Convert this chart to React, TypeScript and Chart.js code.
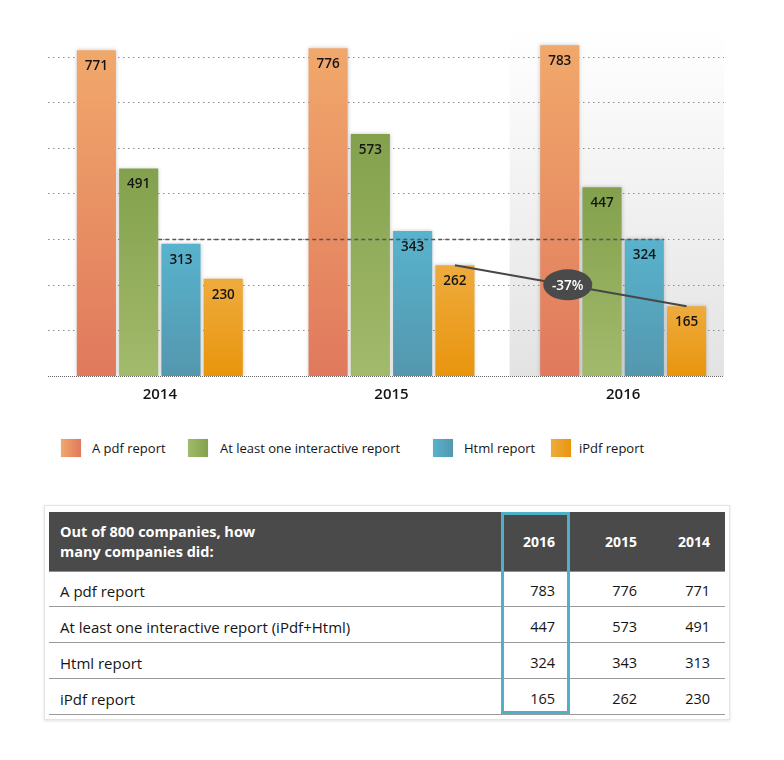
import { useEffect, useRef } from "react";
import { Chart, registerables } from "chart.js";

Chart.register(...registerables);

const years = ["2014", "2015", "2016"];
const seriesNames = ["A pdf report", "At least one interactive report", "Html report", "iPdf report"];
const pdfValues = [771, 776, 783];
const interactiveValues = [491, 573, 447];
const htmlValues = [313, 343, 324];
const ipdfValues = [230, 262, 165];
const gridValues = [108, 216, 324, 432, 540, 648, 756];
const yMax = 800;

const tableTitle = ["Out of 800 companies, how", "many companies did:"];
const tableRowLabels = ["A pdf report", "At least one interactive report (iPdf+Html)", "Html report", "iPdf report"];

const seriesValues = [pdfValues, interactiveValues, htmlValues, ipdfValues];
const seriesTop = ["#f1a86b", "#83a14c", "#58b3cd", "#eeab3d"];
const seriesBottom = ["#e0795d", "#a2ba6c", "#5497ae", "#e9950d"];
const legendLeft = ["#f1a86b", "#a2ba6c", "#58b3cd", "#eeab3d"];
const legendRight = ["#e0795d", "#83a14c", "#5497ae", "#e9950d"];

const FONT = "'Open Sans', Lato, sans-serif";

const decorPlugin = {
  id: "decor",
  beforeDatasetsDraw(chart: any) {
    const { ctx, chartArea: a, scales } = chart;
    const x = scales.x;
    const y = scales.y;
    const gl = a.left + 4;
    const gr = a.right - 15;
    const cw = x.getPixelForValue(1) - x.getPixelForValue(0);
    const px = x.getPixelForValue(2) - cw * 0.49;
    const g = ctx.createLinearGradient(0, a.top - 8, 0, a.bottom);
    g.addColorStop(0, "rgba(255,255,255,1)");
    g.addColorStop(1, "#e3e3e3");
    ctx.save();
    ctx.fillStyle = g;
    ctx.fillRect(px, a.top - 8, gr - px, a.bottom - a.top + 8);
    ctx.strokeStyle = "#8c8c8c";
    ctx.lineWidth = 1;
    ctx.setLineDash([1.5, 3.5]);
    for (const v of gridValues) {
      const yy = Math.round(y.getPixelForValue(v)) + 0.5;
      ctx.beginPath();
      ctx.moveTo(gl, yy);
      ctx.lineTo(gr, yy);
      ctx.stroke();
    }
    ctx.restore();
    ctx.save();
    ctx.shadowColor = "rgba(0,0,0,0.22)";
    ctx.shadowBlur = 4;
    ctx.shadowOffsetX = 0;
    ctx.shadowOffsetY = 0;
  },
  afterDatasetsDraw(chart: any) {
    const { ctx, chartArea: a, scales } = chart;
    ctx.restore();
    const y = scales.y;
    const gl = a.left + 4;
    const gr = a.right - 15;
    // baseline
    ctx.save();
    ctx.strokeStyle = "#666";
    ctx.lineWidth = 1;
    ctx.setLineDash([1, 1]);
    const by = Math.round(y.getPixelForValue(0)) + 0.5;
    ctx.beginPath();
    ctx.moveTo(gl, by);
    ctx.lineTo(gr, by);
    ctx.stroke();
    ctx.restore();
    // value labels
    ctx.save();
    ctx.font = `600 13.5px ${FONT}`;
    ctx.fillStyle = "#151515";
    ctx.textAlign = "center";
    ctx.textBaseline = "middle";
    chart.data.datasets.forEach((ds: any, di: number) => {
      const meta = chart.getDatasetMeta(di);
      meta.data.forEach((el: any, i: number) => {
        ctx.fillText(String(ds.data[i]), el.x, el.y + 16);
      });
    });
    ctx.restore();
    // dashed reference line at 2016 html value
    const mInt = chart.getDatasetMeta(1);
    const mHtml = chart.getDatasetMeta(2);
    const mIpdf = chart.getDatasetMeta(3);
    const sx = mInt.data[0].x + mInt.data[0].width / 2;
    const ex = mHtml.data[2].x + mHtml.data[2].width / 2;
    const dy = Math.round(y.getPixelForValue(htmlValues[2])) + 0.5;
    ctx.save();
    ctx.strokeStyle = "#555";
    ctx.lineWidth = 1.3;
    ctx.setLineDash([4, 3]);
    ctx.beginPath();
    ctx.moveTo(sx, dy);
    ctx.lineTo(ex, dy);
    ctx.stroke();
    ctx.restore();
    // trend line ipdf 2015 -> 2016
    const p1 = mIpdf.data[1];
    const p2 = mIpdf.data[2];
    ctx.save();
    ctx.strokeStyle = "#474747";
    ctx.lineWidth = 2;
    ctx.beginPath();
    ctx.moveTo(p1.x, p1.y);
    ctx.lineTo(p2.x, p2.y);
    ctx.stroke();
    const mx = (p1.x + p2.x) / 2 - 3;
    const my = (p1.y + p2.y) / 2 - 1;
    ctx.fillStyle = "#4a4a4a";
    ctx.beginPath();
    ctx.ellipse(mx, my, 24.5, 15.5, 0, 0, Math.PI * 2);
    ctx.fill();
    const pct = Math.round(((ipdfValues[2] - ipdfValues[1]) / ipdfValues[1]) * 100);
    ctx.fillStyle = "#ffffff";
    ctx.font = `600 13.5px ${FONT}`;
    ctx.textAlign = "center";
    ctx.textBaseline = "middle";
    ctx.fillText(`${pct}%`, mx, my + 1);
    ctx.restore();
  },
};

function ChartCanvas() {
  const ref = useRef<HTMLCanvasElement>(null);
  useEffect(() => {
    if (!ref.current) return;
    const chart = new Chart(ref.current, {
      type: "bar",
      data: {
        labels: years,
        datasets: seriesValues.map((vals, si) => ({
          label: seriesNames[si],
          data: vals,
          borderWidth: 0,
          categoryPercentage: 0.73,
          barPercentage: 0.925,
          backgroundColor: (c: any) => {
            const ch = c.chart;
            const ys = ch.scales && ch.scales.y;
            if (!ch.chartArea || !ys || c.raw === undefined) return seriesTop[si];
            const top = ys.getPixelForValue(c.raw);
            const bot = ys.getPixelForValue(0);
            const g = ch.ctx.createLinearGradient(0, top, 0, bot);
            g.addColorStop(0, seriesTop[si]);
            g.addColorStop(1, seriesBottom[si]);
            return g;
          },
        })),
      },
      options: {
        animation: false,
        responsive: false,
        layout: { padding: { left: 36, right: 37, top: 30, bottom: 14 } },
        plugins: { legend: { display: false }, tooltip: { enabled: false } },
        scales: {
          x: {
            grid: { display: false, drawTicks: false },
            border: { display: false },
            ticks: { color: "#151515", font: { family: FONT, size: 15, weight: "600" }, padding: 10 },
          },
          y: { display: false, min: 0, max: yMax },
        },
      },
      plugins: [decorPlugin],
    });
    return () => chart.destroy();
  }, []);
  return <canvas ref={ref} width={768} height={420} style={{ width: 768, height: 420, display: "block" }} />;
}

const legendPos = [
  { sq: 53, tx: 84 },
  { sq: 180, tx: 212 },
  { sq: 425, tx: 456 },
  { sq: 543, tx: 571 },
];

export default function App() {
  const table2016 = seriesValues.map((v) => v[2]);
  const table2015 = seriesValues.map((v) => v[1]);
  const table2014 = seriesValues.map((v) => v[0]);
  const tableYears = [years[2], years[1], years[0]];
  const colRight = [555, 637, 710];
  return (
    <div style={{ position: "relative", width: 768, height: 744, fontFamily: FONT, color: "#151515" }}>
      <div style={{ position: "absolute", left: 0, top: 0 }}>
        <ChartCanvas />
      </div>
      {seriesNames.map((n, i) => (
        <div key={n}>
          <div
            style={{
              position: "absolute",
              left: legendPos[i].sq,
              top: 431,
              width: 20,
              height: 18,
              background: `linear-gradient(to right, ${legendLeft[i]}, ${legendRight[i]})`,
              boxShadow: "0 0 1px rgba(0,0,0,0.15)",
            }}
          />
          <div style={{ position: "absolute", left: legendPos[i].tx, top: 432, fontSize: 13, lineHeight: "16px", fontWeight: 500 }}>{n}</div>
        </div>
      ))}
      <div
        style={{
          position: "absolute",
          left: 36,
          top: 497,
          width: 684,
          height: 213,
          border: "1px solid #e4e4e4",
          boxShadow: "0 1px 3px rgba(0,0,0,0.12)",
          background: "#fff",
        }}
      />
      <div style={{ position: "absolute", left: 41, top: 504, width: 676, height: 59, background: "#4a4a4a", borderBottom: "1px solid #8d8d8d" }} />
      {tableTitle.map((t, i) => (
        <div key={t} style={{ position: "absolute", left: 52, top: 515 + i * 20, color: "#fff", fontSize: 14.5, fontWeight: 700, lineHeight: "18px" }}>
          {t}
        </div>
      ))}
      {tableYears.map((yr, i) => (
        <div key={yr} style={{ position: "absolute", right: 768 - (colRight[i] - 8), top: 525, color: "#fff", fontSize: 14, fontWeight: 700, lineHeight: "18px" }}>
          {yr}
        </div>
      ))}
      {tableRowLabels.map((lab, r) => (
        <div key={lab}>
          <div style={{ position: "absolute", left: 41, top: 563 + r * 36, width: 676, height: 35, borderBottom: "1px solid #9a9a9a" }} />
          <div style={{ position: "absolute", left: 52, top: 574 + r * 36, fontSize: 15, fontWeight: 500, lineHeight: "18px" }}>{lab}</div>
          {[table2016[r], table2015[r], table2014[r]].map((v, c) => (
            <div key={c} style={{ position: "absolute", right: 768 - (colRight[c] - 8), top: 574 + r * 36, fontSize: 14.5, fontWeight: 500, lineHeight: "18px" }}>
              {v}
            </div>
          ))}
        </div>
      ))}
      <div style={{ position: "absolute", left: 493, top: 504, width: 63, height: 196, border: "3px solid #50afc9" }} />
    </div>
  );
}
